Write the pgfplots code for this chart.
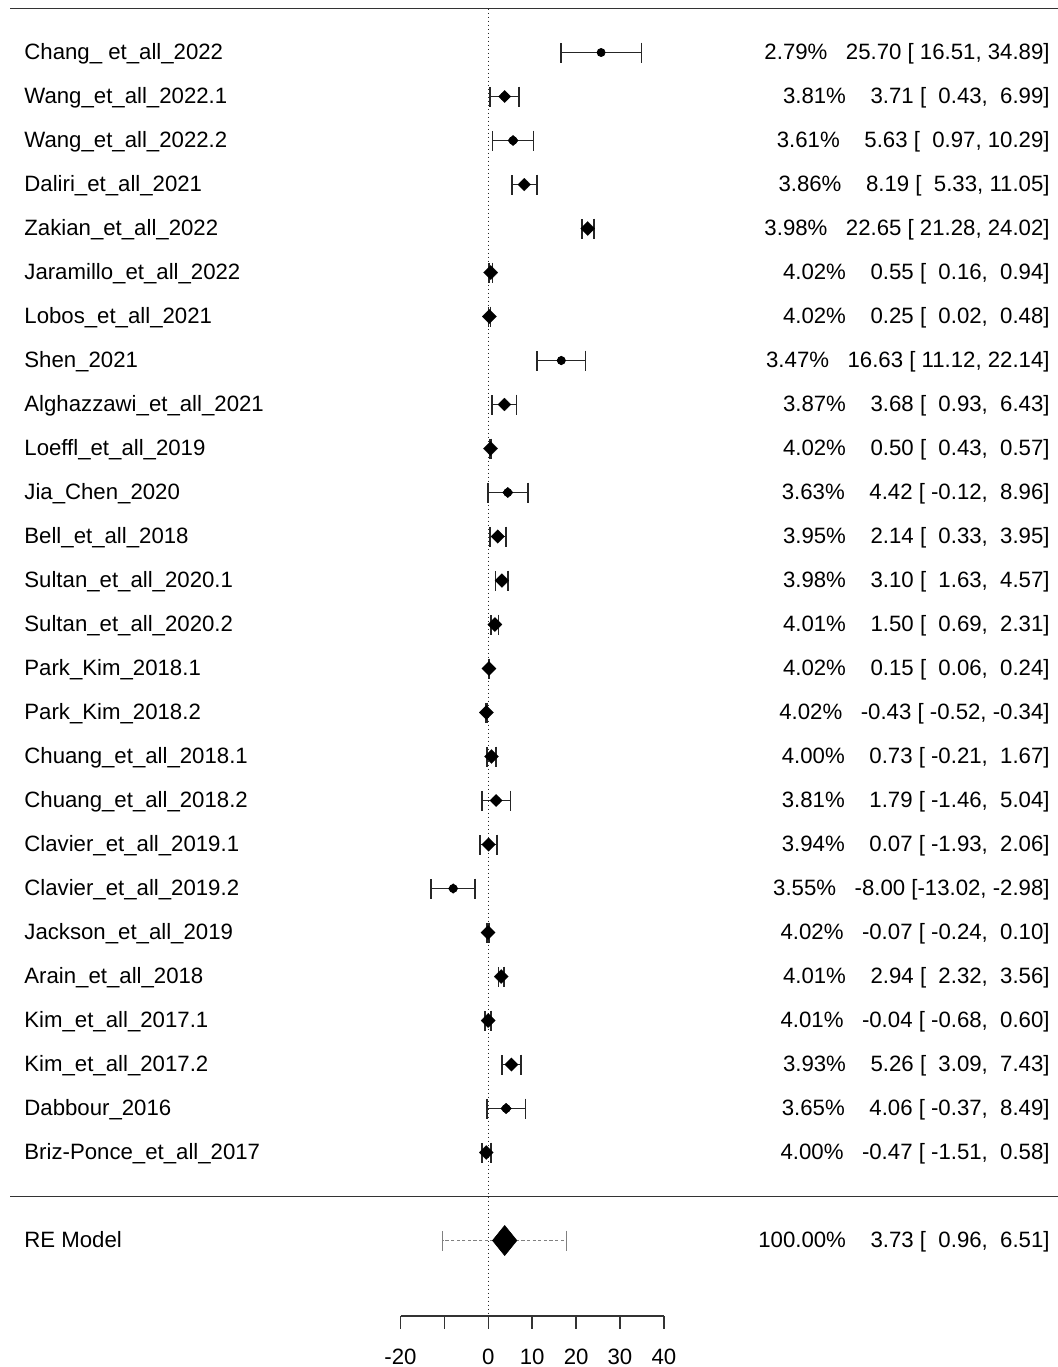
\documentclass[border=0pt]{standalone}
\usepackage{pgfplots}
\pgfplotsset{compat=1.18}
\usepackage{pgfplotstable}
\usepackage{fontspec}
\setmainfont{Liberation Sans}

\pgfplotstableread{
k w yi lb ub
1 2.79 25.70 16.51 34.89
2 3.81 3.71 0.43 6.99
3 3.61 5.63 0.97 10.29
4 3.86 8.19 5.33 11.05
5 3.98 22.65 21.28 24.02
6 4.02 0.55 0.16 0.94
7 4.02 0.25 0.02 0.48
8 3.47 16.63 11.12 22.14
9 3.87 3.68 0.93 6.43
10 4.02 0.50 0.43 0.57
11 3.63 4.42 -0.12 8.96
12 3.95 2.14 0.33 3.95
13 3.98 3.10 1.63 4.57
14 4.01 1.50 0.69 2.31
15 4.02 0.15 0.06 0.24
16 4.02 -0.43 -0.52 -0.34
17 4.00 0.73 -0.21 1.67
18 3.81 1.79 -1.46 5.04
19 3.94 0.07 -1.93 2.06
20 3.55 -8.00 -13.02 -2.98
21 4.02 -0.07 -0.24 0.10
22 4.01 2.94 2.32 3.56
23 4.01 -0.04 -0.68 0.60
24 3.93 5.26 3.09 7.43
25 3.65 4.06 -0.37 8.49
26 4.00 -0.47 -1.51 0.58
}\studies

\pgfplotstableread{
k yi lb ub
28 3.73 -10.37 17.83
}\predint

\newcommand{\lbl}[2]{\node[anchor=base west] at (axis cs:-105.79,#1+0.15) {#2};}
\newcommand{\ann}[2]{\node[anchor=base east] at (axis cs:127.98,#1+0.15) {#2};}

\begin{document}
\begin{tikzpicture}[every node/.style={font=\fontsize{11.1}{13}\selectfont, inner sep=0pt}]
\begin{axis}[
  scale only axis,
  width=529pt, height=683.5pt,
  xmin=-111.26, xmax=129.80,
  ymin=-0.19318, ymax=30.875,
  y dir=reverse,
  hide axis,
  clip=false,
]
% reference line at 0
\draw[black!85, line width=0.7pt, dash pattern=on 0.7pt off 1.3pt] (axis cs:0,0) -- (axis cs:0,29.72);
% horizontal separators
\draw[black!80, line width=0.8pt] (axis cs:-108.98,0) -- (axis cs:129.80,0);
\draw[black!80, line width=0.8pt] (axis cs:-108.98,27) -- (axis cs:129.80,27);

% confidence intervals
\addplot[only marks, mark=none,
  error bars/.cd, x dir=both, x explicit,
  error bar style={line width=0.9pt, black!85},
  error mark options={rotate=90, line width=0.9pt, black!85, mark size=5pt}]
  table[x=yi, y=k,
    x error plus expr=\thisrow{ub}-\thisrow{yi},
    x error minus expr=\thisrow{yi}-\thisrow{lb}] {\studies};

% study estimates (size by weight)
\addplot[scatter, only marks, mark=square*,
  scatter/use mapped color={draw=black, fill=black},
  mark options={rotate=45, line width=0.05pt},
  visualization depends on={(2.6+9.6*(\thisrow{w}-2.79))*0.17678 \as \ms},
  scatter/@pre marker code/.append style={/tikz/mark size=\ms pt}]
  table[x=yi, y=k] {\studies};

% prediction interval
\addplot[only marks, mark=none,
  error bars/.cd, x dir=both, x explicit,
  error bar style={line width=0.5pt, black!50, dash pattern=on 1.6pt off 1.2pt},
  error mark options={rotate=90, line width=0.5pt, black!50, mark size=5pt, solid}]
  table[x=yi, y=k,
    x error plus expr=\thisrow{ub}-\thisrow{yi},
    x error minus expr=\thisrow{yi}-\thisrow{lb}] {\predint};

% summary diamond
\addplot[fill=black, draw=black, line width=0.3pt] coordinates {(0.96,28) (3.73,27.659) (6.51,28) (3.73,28.341)} -- cycle;

% x axis
\draw[black!80, line width=0.75pt] (axis cs:-20,29.72) -- (axis cs:40,29.72);
\pgfplotsinvokeforeach{-20,-10,0,10,20,30,40}{
  \draw[black!80, line width=0.75pt] (axis cs:#1,29.72) -- (axis cs:#1,30.015);
}
\pgfplotsinvokeforeach{-20,0,10,20,30,40}{
  \node[anchor=base] at (axis cs:#1,30.82) {#1};
}

% study labels
\lbl{1}{Chang\_ et\_all\_2022}
\lbl{2}{Wang\_et\_all\_2022.1}
\lbl{3}{Wang\_et\_all\_2022.2}
\lbl{4}{Daliri\_et\_all\_2021}
\lbl{5}{Zakian\_et\_all\_2022}
\lbl{6}{Jaramillo\_et\_all\_2022}
\lbl{7}{Lobos\_et\_all\_2021}
\lbl{8}{Shen\_2021}
\lbl{9}{Alghazzawi\_et\_all\_2021}
\lbl{10}{Loeffl\_et\_all\_2019}
\lbl{11}{Jia\_Chen\_2020}
\lbl{12}{Bell\_et\_all\_2018}
\lbl{13}{Sultan\_et\_all\_2020.1}
\lbl{14}{Sultan\_et\_all\_2020.2}
\lbl{15}{Park\_Kim\_2018.1}
\lbl{16}{Park\_Kim\_2018.2}
\lbl{17}{Chuang\_et\_all\_2018.1}
\lbl{18}{Chuang\_et\_all\_2018.2}
\lbl{19}{Clavier\_et\_all\_2019.1}
\lbl{20}{Clavier\_et\_all\_2019.2}
\lbl{21}{Jackson\_et\_all\_2019}
\lbl{22}{Arain\_et\_all\_2018}
\lbl{23}{Kim\_et\_all\_2017.1}
\lbl{24}{Kim\_et\_all\_2017.2}
\lbl{25}{Dabbour\_2016}
\lbl{26}{Briz-Ponce\_et\_all\_2017}
\lbl{28}{RE Model}

% annotations
\ann{1}{2.79\%\ \ \ 25.70\ [\ 16.51,\ 34.89]}
\ann{2}{3.81\%\ \ \ \ 3.71\ [\ \ 0.43,\ \ 6.99]}
\ann{3}{3.61\%\ \ \ \ 5.63\ [\ \ 0.97,\ 10.29]}
\ann{4}{3.86\%\ \ \ \ 8.19\ [\ \ 5.33,\ 11.05]}
\ann{5}{3.98\%\ \ \ 22.65\ [\ 21.28,\ 24.02]}
\ann{6}{4.02\%\ \ \ \ 0.55\ [\ \ 0.16,\ \ 0.94]}
\ann{7}{4.02\%\ \ \ \ 0.25\ [\ \ 0.02,\ \ 0.48]}
\ann{8}{3.47\%\ \ \ 16.63\ [\ 11.12,\ 22.14]}
\ann{9}{3.87\%\ \ \ \ 3.68\ [\ \ 0.93,\ \ 6.43]}
\ann{10}{4.02\%\ \ \ \ 0.50\ [\ \ 0.43,\ \ 0.57]}
\ann{11}{3.63\%\ \ \ \ 4.42\ [\ -0.12,\ \ 8.96]}
\ann{12}{3.95\%\ \ \ \ 2.14\ [\ \ 0.33,\ \ 3.95]}
\ann{13}{3.98\%\ \ \ \ 3.10\ [\ \ 1.63,\ \ 4.57]}
\ann{14}{4.01\%\ \ \ \ 1.50\ [\ \ 0.69,\ \ 2.31]}
\ann{15}{4.02\%\ \ \ \ 0.15\ [\ \ 0.06,\ \ 0.24]}
\ann{16}{4.02\%\ \ \ -0.43\ [\ -0.52,\ -0.34]}
\ann{17}{4.00\%\ \ \ \ 0.73\ [\ -0.21,\ \ 1.67]}
\ann{18}{3.81\%\ \ \ \ 1.79\ [\ -1.46,\ \ 5.04]}
\ann{19}{3.94\%\ \ \ \ 0.07\ [\ -1.93,\ \ 2.06]}
\ann{20}{3.55\%\ \ \ -8.00\ [-13.02,\ -2.98]}
\ann{21}{4.02\%\ \ \ -0.07\ [\ -0.24,\ \ 0.10]}
\ann{22}{4.01\%\ \ \ \ 2.94\ [\ \ 2.32,\ \ 3.56]}
\ann{23}{4.01\%\ \ \ -0.04\ [\ -0.68,\ \ 0.60]}
\ann{24}{3.93\%\ \ \ \ 5.26\ [\ \ 3.09,\ \ 7.43]}
\ann{25}{3.65\%\ \ \ \ 4.06\ [\ -0.37,\ \ 8.49]}
\ann{26}{4.00\%\ \ \ -0.47\ [\ -1.51,\ \ 0.58]}
\ann{28}{100.00\%\ \ \ \ 3.73\ [\ \ 0.96,\ \ 6.51]}
\end{axis}
\pgfresetboundingbox
\useasboundingbox (current axis.south west) rectangle (current axis.north east);
\end{tikzpicture}
\end{document}
